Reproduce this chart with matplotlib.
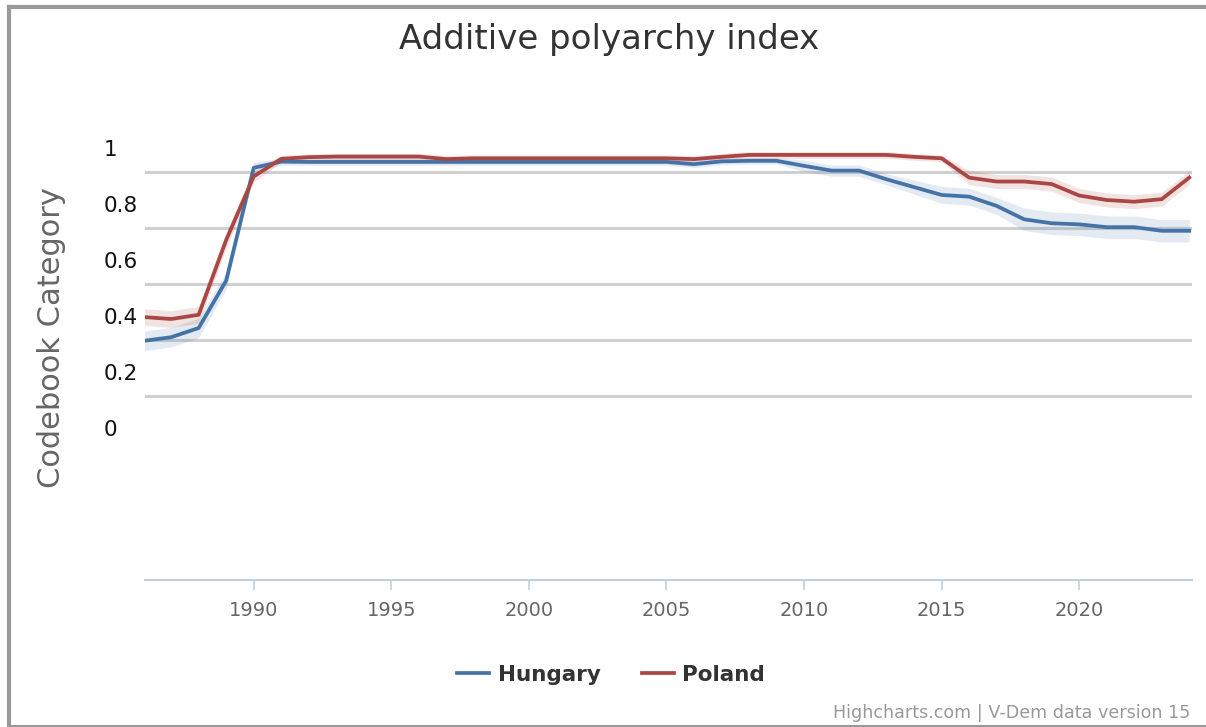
import numpy as np
import matplotlib
matplotlib.use("Agg")
import matplotlib.pyplot as plt
from matplotlib.lines import Line2D

years = list(range(1986, 2025))

hungary = [0.311, 0.324, 0.357, 0.526, 0.929, 0.951, 0.950, 0.950, 0.950, 0.950,
           0.950, 0.950, 0.950, 0.950, 0.950, 0.950, 0.950, 0.950, 0.950, 0.950,
           0.942, 0.952, 0.954, 0.954, 0.936, 0.919, 0.919, 0.888, 0.860, 0.832,
           0.826, 0.793, 0.745, 0.731, 0.727, 0.717, 0.717, 0.704, 0.704]

poland = [0.396, 0.389, 0.404, 0.671, 0.898, 0.961, 0.967, 0.969, 0.969, 0.969,
          0.969, 0.960, 0.963, 0.963, 0.963, 0.963, 0.963, 0.963, 0.963, 0.963,
          0.960, 0.968, 0.975, 0.975, 0.975, 0.975, 0.975, 0.975, 0.968, 0.963,
          0.894, 0.880, 0.880, 0.871, 0.830, 0.814, 0.808, 0.817, 0.894]

# half width of the confidence band
hungary_err = [0.035, 0.035, 0.035, 0.030, 0.020, 0.012, 0.012, 0.012, 0.012, 0.012,
               0.012, 0.012, 0.012, 0.012, 0.012, 0.012, 0.012, 0.012, 0.012, 0.012,
               0.012, 0.012, 0.012, 0.012, 0.020, 0.020, 0.020, 0.020, 0.025, 0.030,
               0.030, 0.030, 0.040, 0.040, 0.040, 0.040, 0.040, 0.040, 0.040]

poland_err = [0.030, 0.030, 0.030, 0.030, 0.020, 0.012, 0.012, 0.012, 0.012, 0.012,
              0.012, 0.012, 0.012, 0.012, 0.012, 0.012, 0.012, 0.012, 0.012, 0.012,
              0.012, 0.012, 0.012, 0.012, 0.012, 0.012, 0.012, 0.012, 0.012, 0.012,
              0.025, 0.025, 0.025, 0.025, 0.025, 0.025, 0.025, 0.025, 0.025]

y_ticks = [0, 0.2, 0.4, 0.6, 0.8, 1]
y_labels = ["0", "0.2", "0.4", "0.6", "0.8", "1"]
x_ticks = [1990, 1995, 2000, 2005, 2010, 2015, 2020]

blue = "#4572A7"
red = "#AA4643"

fig = plt.figure(figsize=(12.06, 7.27), dpi=100)
W, H = 1206, 727
ax = fig.add_axes([145 / W, 1 - 580 / H, 1047 / W, 464 / H])

# highcharts draws its grid lines a bit below the labels
for v in y_ticks[1:]:
    ax.axhline(v - 24 / 280, color="#d0d0d0", lw=2.2, zorder=1)

yrs = np.array(years)
h = np.array(hungary)
p = np.array(poland)
he = np.array(hungary_err)
pe = np.array(poland_err)

ax.fill_between(yrs, h - he, h + he, color=blue, alpha=0.15, lw=0, zorder=2)
ax.fill_between(yrs, p - pe, p + pe, color=red, alpha=0.15, lw=0, zorder=2)
ax.plot(yrs, h, color=blue, lw=2.7, label="Hungary", zorder=3)
ax.plot(yrs, p, color=red, lw=2.7, label="Poland", zorder=3)

ax.set_xlim(1986.05, 2024.1)
ax.set_ylim(-0.543, 1.114)

ax.set_yticks(y_ticks)
ax.set_yticklabels(y_labels, fontsize=15.5, color="#111111")
ax.tick_params(axis="y", length=0, pad=29.5)
for lbl in ax.get_yticklabels():
    lbl.set_ha("left")

ax.set_xticks(x_ticks)
ax.set_xticklabels([str(x) for x in x_ticks], fontsize=14, color="#666666")
ax.tick_params(axis="x", direction="out", length=7, width=1.2, color="#C0D0E0", pad=8)

for s in ["top", "right", "left"]:
    ax.spines[s].set_visible(False)
ax.spines["bottom"].set_color("#C0D0E0")
ax.spines["bottom"].set_linewidth(1.5)

fig.text(609 / W, 1 - 49 / H, "Additive polyarchy index", ha="center", va="baseline",
         fontsize=24.5, color="#333333")
fig.text(52 / W, 1 - 338 / H, "Codebook Category", rotation=90, ha="center", va="center",
         fontsize=22, color="#666666")

leg = fig.legend(loc="center", bbox_to_anchor=(611 / W, 1 - 675 / H), ncol=2, frameon=False,
                 prop={"weight": "bold", "size": 15.5}, handlelength=1.5, handletextpad=0.4,
                 columnspacing=1.9)
for t in leg.get_texts():
    t.set_color("#333333")

fig.text(1190 / W, 1 - 713 / H, "Highcharts.com | V-Dem data version 15", ha="right",
         va="center", fontsize=12.6, color="#999999")

# outer frame
fig.add_artist(Line2D([9 / W, 9 / W], [1 - 7 / H, 1 - 726 / H], color="#999999", lw=3))
fig.add_artist(Line2D([9 / W, 1], [1 - 7 / H, 1 - 7 / H], color="#999999", lw=3))
fig.add_artist(Line2D([9 / W, 1], [1 - 726 / H, 1 - 726 / H], color="#999999", lw=1.5))

fig.savefig("out.png", dpi=100)
